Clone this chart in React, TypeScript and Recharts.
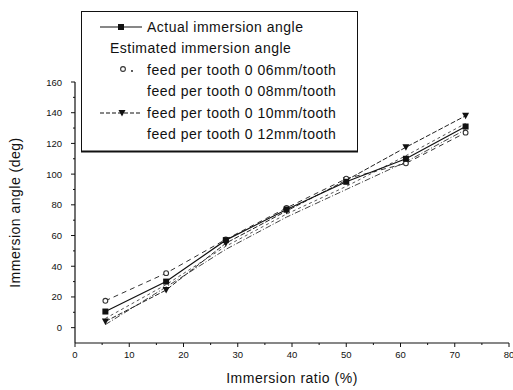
import { LineChart, Line, XAxis, YAxis, Legend } from 'recharts';

// Immersion ratio (%) at each test point
const immersionRatio = [5.6, 16.8, 27.8, 39, 50, 61, 72];
// Immersion angle (deg)
const actualAngle = [10.5, 30, 57, 77, 95, 110, 131];
const feed006 = [17.5, 35.5, 57.5, 78, 97, 107, 127];
const feed008 = [6, 28, 53, 74, 92, 112, 133];
const feed010 = [4, 24.5, 55, 76, 96, 117.5, 138];
const feed012 = [2, 26.5, 51, 72, 90, 108, 129];

const xTicks = [0, 5, 10, 15, 20, 25, 30, 35, 40, 45, 50, 55, 60, 65, 70, 75, 80];
const yTicks = [0, 10, 20, 30, 40, 50, 60, 70, 80, 90, 100, 110, 120, 130, 140, 150, 160];

const legendLabels = [
  'Actual immersion angle',
  'Estimated immersion angle',
  'feed per tooth 0 06mm/tooth',
  'feed per tooth 0 08mm/tooth',
  'feed per tooth 0 10mm/tooth',
  'feed per tooth 0 12mm/tooth',
];

const data = immersionRatio.map((r, i) => ({
  ratio: r,
  actual: actualAngle[i],
  f006: feed006[i],
  f008: feed008[i],
  f010: feed010[i],
  f012: feed012[i],
}));

const FONT = 'Arial, "Liberation Sans", sans-serif';
const INK = '#111';

function SquareDot({ cx, cy }: any) {
  if (cx == null || cy == null) return null;
  return <rect x={cx - 3} y={cy - 3} width={6} height={6} fill={INK} />;
}

function CircleDot({ cx, cy }: any) {
  if (cx == null || cy == null) return null;
  return <circle cx={cx} cy={cy} r={2.4} fill="#fff" stroke="#333" strokeWidth={1.1} />;
}

function TriangleDot({ cx, cy }: any) {
  if (cx == null || cy == null) return null;
  return <path d={`M${cx - 3.5},${cy - 3}L${cx + 3.5},${cy - 3}L${cx},${cy + 3.5}Z`} fill={INK} />;
}

function XTick({ x, y, payload }: any) {
  const major = payload.value % 10 === 0;
  return (
    <g>
      <line x1={x} x2={x} y1={y} y2={y + (major ? 4 : 2)} stroke={INK} strokeWidth={1} />
      {major && (
        <text x={x} y={y + 15} textAnchor="middle" fontSize={9.5} fontFamily={FONT} fill={INK}>
          {payload.value}
        </text>
      )}
    </g>
  );
}

function YTick({ x, y, payload }: any) {
  const major = payload.value % 20 === 0;
  return (
    <g>
      <line x1={x - (major ? 4 : 2)} x2={x} y1={y} y2={y} stroke={INK} strokeWidth={1} />
      {major && (
        <text x={x - 13} y={y + 3.5} textAnchor="end" fontSize={9.5} fontFamily={FONT} fill={INK}>
          {payload.value}
        </text>
      )}
    </g>
  );
}

function LegendBox() {
  const rowY = [16, 37, 59, 80, 102, 123];
  const textStyle = { fontSize: 14, fontFamily: FONT, fill: INK, letterSpacing: 0.5 };
  return (
    <svg width={277} height={142} style={{ display: 'block' }}>
      <rect x={0.5} y={0.5} width={276} height={140} fill="#fff" stroke={INK} strokeWidth={1} />
      <line x1={0} x2={277} y1={140.5} y2={140.5} stroke={INK} strokeWidth={2} />
      <line x1={19} x2={61} y1={rowY[0]} y2={rowY[0]} stroke={INK} strokeWidth={1.2} />
      <SquareDot cx={40} cy={rowY[0]} />
      <text x={66} y={rowY[0] + 5} {...textStyle}>{legendLabels[0]}</text>
      <text x={29} y={rowY[1] + 5} {...textStyle}>{legendLabels[1]}</text>
      <CircleDot cx={42} cy={rowY[2] - 1} />
      <circle cx={51} cy={rowY[2] + 1} r={0.9} fill={INK} />
      <text x={66} y={rowY[2] + 5} {...textStyle}>{legendLabels[2]}</text>
      <text x={66} y={rowY[3] + 5} {...textStyle}>{legendLabels[3]}</text>
      <line x1={19} x2={61} y1={rowY[4]} y2={rowY[4]} stroke={INK} strokeWidth={1.2} strokeDasharray="4 2" />
      <TriangleDot cx={41} cy={rowY[4]} />
      <text x={66} y={rowY[4] + 5} {...textStyle}>{legendLabels[4]}</text>
      <text x={66} y={rowY[5] + 5} {...textStyle}>{legendLabels[5]}</text>
    </svg>
  );
}

export default function App() {
  return (
    <div style={{ position: 'absolute', left: 0, top: 0, width: 513, height: 390, background: '#fff' }}>
      <LineChart width={513} height={390} data={data} margin={{ top: 82, right: 4, bottom: 0, left: 0 }}>
        <XAxis
          type="number"
          dataKey="ratio"
          domain={[0, 80]}
          ticks={xTicks}
          interval={0}
          height={47}
          tickSize={0}
          tickMargin={0}
          tickLine={false}
          axisLine={{ stroke: INK, strokeWidth: 1.2 }}
          tick={<XTick />}
          label={{ value: 'Immersion ratio (%)', position: 'insideBottom', offset: 7, fontSize: 14, fontFamily: FONT, fill: INK, letterSpacing: 0.5 } as any}
        />
        <YAxis
          type="number"
          domain={[-10, 160]}
          ticks={yTicks}
          interval={0}
          width={75}
          tickSize={0}
          tickMargin={0}
          tickLine={false}
          axisLine={{ stroke: INK, strokeWidth: 1.2 }}
          tick={<YTick />}
          label={{ value: 'Immersion angle (deg)', angle: -90, position: 'insideLeft', offset: 15, fontSize: 14, fontFamily: FONT, fill: INK, letterSpacing: 0.5, style: { textAnchor: 'middle' } } as any}
        />
        <Legend
          layout="horizontal"
          verticalAlign="middle"
          align="center"
          content={<LegendBox />}
          wrapperStyle={{ position: 'absolute', left: 81, top: 11, width: 277, height: 142, margin: 0, padding: 0 }}
        />
        <Line dataKey="f012" stroke="#444" strokeWidth={1} strokeDasharray="6 2 1 2" dot={false} isAnimationActive={false} />
        <Line dataKey="f008" stroke="#555" strokeWidth={1} strokeDasharray="3 3" dot={false} isAnimationActive={false} />
        <Line dataKey="f010" stroke="#222" strokeWidth={1} strokeDasharray="5 2" dot={<TriangleDot />} isAnimationActive={false} />
        <Line dataKey="f006" stroke="#333" strokeWidth={1} strokeDasharray="5 4" dot={<CircleDot />} isAnimationActive={false} />
        <Line dataKey="actual" stroke={INK} strokeWidth={1.2} dot={<SquareDot />} isAnimationActive={false} />
      </LineChart>
    </div>
  );
}
